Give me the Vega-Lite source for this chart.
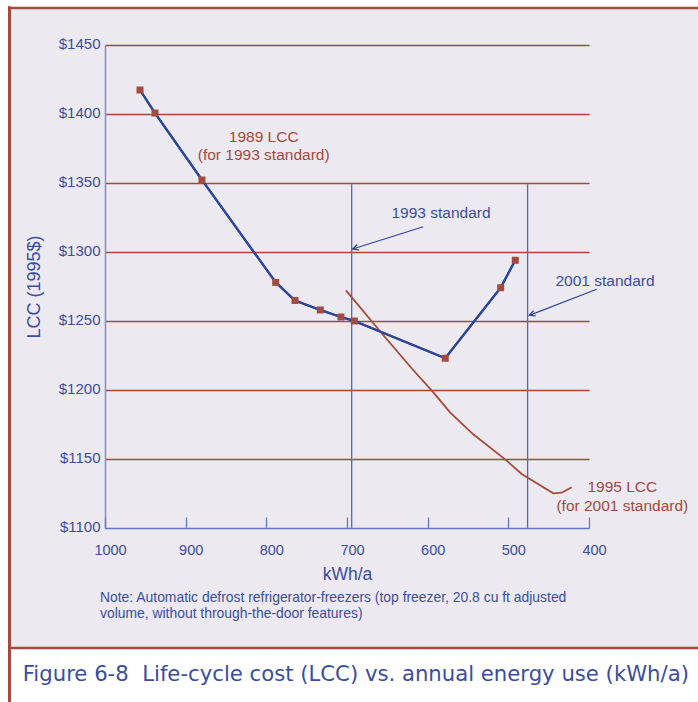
{
  "$schema": "https://vega.github.io/schema/vega-lite/v6.json",
  "width": 484,
  "height": 483,
  "autosize": {"type": "none"},
  "padding": {"left": 105, "top": 45, "right": 109, "bottom": 174},
  "background": "#ECE9F1",
  "view": {"stroke": null},
  "datasets": {
    "lcc1989": [
      {"kwh": 956.6, "lcc": 1417.4},
      {"kwh": 938.0, "lcc": 1400.7},
      {"kwh": 879.8, "lcc": 1352.2},
      {"kwh": 788.4, "lcc": 1278.0},
      {"kwh": 764.5, "lcc": 1264.9},
      {"kwh": 733.1, "lcc": 1258.0},
      {"kwh": 707.5, "lcc": 1252.9},
      {"kwh": 690.9, "lcc": 1250.0},
      {"kwh": 578.2, "lcc": 1223.0},
      {"kwh": 509.5, "lcc": 1274.1},
      {"kwh": 491.4, "lcc": 1294.0}
    ],
    "lcc1995": [
      {"kwh": 701.3, "lcc": 1272.2},
      {"kwh": 657.0, "lcc": 1241.1},
      {"kwh": 619.1, "lcc": 1215.2},
      {"kwh": 593.8, "lcc": 1198.8},
      {"kwh": 572.3, "lcc": 1183.8},
      {"kwh": 543.5, "lcc": 1167.9},
      {"kwh": 502.1, "lcc": 1148.8},
      {"kwh": 483.5, "lcc": 1139.1},
      {"kwh": 444.3, "lcc": 1125.1},
      {"kwh": 433.9, "lcc": 1125.6},
      {"kwh": 421.5, "lcc": 1129.5}
    ],
    "standards": [
      {"standard": "1993 standard", "kwh": 694.2},
      {"standard": "2001 standard", "kwh": 476.1}
    ]
  },
  "layer": [
    {
      "data": {"name": "lcc1989"},
      "mark": {"type": "line", "color": "#2C4699", "strokeWidth": 2.2},
      "encoding": {
        "x": {
          "field": "kwh", "type": "quantitative",
          "scale": {"domain": [1000, 400], "nice": false, "zero": false},
          "axis": {
            "values": [1000, 900, 800, 700, 600, 500, 400],
            "format": "d",
            "title": "kWh/a",
            "grid": false,
            "domainColor": "#6677BB", "domainWidth": 1.5,
            "tickColor": "#6677BB", "tickWidth": 1.3, "tickSize": -11,
            "labelColor": "#3A4E9E", "labelFont": "Liberation Sans", "labelFontSize": 14.5,
            "labelPadding": 26, "labelOffset": 5, "labelFlush": false,
            "titleFont": "Liberation Sans", "titleFontSize": 17.5, "titleFontWeight": "normal",
            "titleColor": "#3A4E9E", "titlePadding": 9, "zindex": 1
          }
        },
        "y": {
          "field": "lcc", "type": "quantitative",
          "scale": {"domain": [1100, 1450], "nice": false, "zero": false},
          "axis": {
            "values": [1100, 1150, 1200, 1250, 1300, 1350, 1400, 1450],
            "labelExpr": "'$' + datum.value",
            "title": "LCC (1995$)",
            "ticks": false,
            "domainColor": "#7F8FCB", "domainWidth": 1.5,
            "grid": true,
            "gridColor": {"condition": {"test": "datum.value === 1100", "value": "rgba(0,0,0,0)"}, "value": "#A24A3D"},
            "gridWidth": 1.3,
            "labelColor": "#3A4E9E", "labelFont": "Liberation Sans", "labelFontSize": 15,
            "labelPadding": 5, "labelOffset": -1.5,
            "titleFont": "Liberation Sans", "titleFontSize": 18, "titleFontWeight": "normal",
            "titleColor": "#3A4E9E", "titlePadding": 15
          }
        }
      }
    },
    {
      "data": {"values": [{}]},
      "mark": {"type": "rect", "color": "white"},
      "encoding": {
        "x": {"datum": 1140, "type": "quantitative"},
        "x2": {"datum": 250},
        "y": {"datum": 1495, "type": "quantitative"},
        "y2": {"datum": 1477.3}
      }
    },
    {
      "data": {"values": [{}]},
      "mark": {"type": "rect", "color": "white"},
      "encoding": {
        "x": {"datum": 1140, "type": "quantitative"},
        "x2": {"datum": 1120.3},
        "y": {"datum": 1495, "type": "quantitative"},
        "y2": {"datum": 950}
      }
    },
    {
      "data": {"values": [{}]},
      "mark": {"type": "rect", "color": "white"},
      "encoding": {
        "x": {"datum": 1120, "type": "quantitative"},
        "x2": {"datum": 250},
        "y": {"datum": 1012.2, "type": "quantitative"},
        "y2": {"datum": 950}
      }
    },
    {
      "data": {"values": [{}]},
      "mark": {"type": "rule", "color": "#A24A3D", "strokeWidth": 3},
      "encoding": {
        "x": {"datum": 1118.4, "type": "quantitative"},
        "y": {"datum": 1478, "type": "quantitative"},
        "y2": {"datum": 950}
      }
    },
    {
      "data": {"values": [{}]},
      "mark": {"type": "rule", "color": "#A24A3D", "strokeWidth": 2.6},
      "encoding": {
        "x": {"datum": 1120.3, "type": "quantitative"},
        "x2": {"datum": 250},
        "y": {"datum": 1476.8, "type": "quantitative"}
      }
    },
    {
      "data": {"values": [{}]},
      "mark": {"type": "rule", "color": "#A24A3D", "strokeWidth": 2.6},
      "encoding": {
        "x": {"datum": 1118.4, "type": "quantitative"},
        "x2": {"datum": 250},
        "y": {"datum": 1013, "type": "quantitative"}
      }
    },
    {
      "data": {"name": "standards"},
      "mark": {"type": "rule", "color": "#5468AE", "strokeWidth": 1.3},
      "encoding": {
        "x": {"field": "kwh", "type": "quantitative"},
        "y": {"datum": 1350, "type": "quantitative"},
        "y2": {"datum": 1100}
      }
    },
    {
      "data": {"name": "lcc1995"},
      "mark": {"type": "line", "color": "#A64A3A", "strokeWidth": 1.8},
      "encoding": {
        "x": {"field": "kwh", "type": "quantitative"},
        "y": {"field": "lcc", "type": "quantitative"}
      }
    },
    {
      "data": {"name": "lcc1989"},
      "mark": {"type": "line", "color": "#2C4699", "strokeWidth": 2.2},
      "encoding": {
        "x": {"field": "kwh", "type": "quantitative"},
        "y": {"field": "lcc", "type": "quantitative"}
      }
    },
    {
      "data": {"name": "lcc1989"},
      "mark": {"type": "point", "shape": "square", "filled": true, "size": 49, "color": "#A34B3E", "opacity": 1},
      "encoding": {
        "x": {"field": "kwh", "type": "quantitative"},
        "y": {"field": "lcc", "type": "quantitative"}
      }
    },
    {
      "data": {"values": [{}]},
      "mark": {"type": "rule", "color": "#2C4699", "strokeWidth": 1.2},
      "encoding": {
        "x": {"datum": 605.4, "type": "quantitative"},
        "y": {"datum": 1318.3, "type": "quantitative"},
        "x2": {"datum": 693.0},
        "y2": {"datum": 1302.2}
      }
    },
    {
      "data": {"values": [{}]},
      "mark": {"type": "point", "shape": "M-1,-0.5L0,0L-1,0.5", "filled": false, "size": 130, "color": "#2C4699", "strokeWidth": 1.3, "angle": 162.5, "opacity": 1},
      "encoding": {
        "x": {"datum": 693.0, "type": "quantitative"},
        "y": {"datum": 1302.2, "type": "quantitative"}
      }
    },
    {
      "data": {"values": [{}]},
      "mark": {"type": "rule", "color": "#2C4699", "strokeWidth": 1.2},
      "encoding": {
        "x": {"datum": 390.5, "type": "quantitative"},
        "y": {"datum": 1273.0, "type": "quantitative"},
        "x2": {"datum": 474.0},
        "y2": {"datum": 1254.1}
      }
    },
    {
      "data": {"values": [{}]},
      "mark": {"type": "point", "shape": "M-1,-0.5L0,0L-1,0.5", "filled": false, "size": 130, "color": "#2C4699", "strokeWidth": 1.3, "angle": 158.9, "opacity": 1},
      "encoding": {
        "x": {"datum": 474.0, "type": "quantitative"},
        "y": {"datum": 1254.1, "type": "quantitative"}
      }
    },
    {
      "data": {"values": [{}]},
      "mark": {"type": "text", "text": "1993 standard", "font": "Liberation Sans", "fontSize": 15.5, "color": "#3A4E9E", "align": "center", "baseline": "middle"},
      "encoding": {
        "x": {"datum": 583.5, "type": "quantitative"},
        "y": {"datum": 1328.5, "type": "quantitative"}
      }
    },
    {
      "data": {"values": [{}]},
      "mark": {"type": "text", "text": "2001 standard", "font": "Liberation Sans", "fontSize": 15.5, "color": "#3A4E9E", "align": "center", "baseline": "middle"},
      "encoding": {
        "x": {"datum": 380.2, "type": "quantitative"},
        "y": {"datum": 1279.2, "type": "quantitative"}
      }
    },
    {
      "data": {"values": [{}]},
      "mark": {"type": "text", "text": ["1989 LCC", "(for 1993 standard)"], "lineHeight": 18.3, "font": "Liberation Sans", "fontSize": 15.5, "color": "#A24A3D", "align": "center", "baseline": "middle"},
      "encoding": {
        "x": {"datum": 803.3, "type": "quantitative"},
        "y": {"datum": 1383.55, "type": "quantitative"}
      }
    },
    {
      "data": {"values": [{}]},
      "mark": {"type": "text", "text": ["1995 LCC", "(for 2001 standard)"], "lineHeight": 18.7, "font": "Liberation Sans", "fontSize": 15.5, "color": "#A24A3D", "align": "center", "baseline": "middle"},
      "encoding": {
        "x": {"datum": 358.7, "type": "quantitative"},
        "y": {"datum": 1129.5, "type": "quantitative"}
      }
    },
    {
      "data": {"values": [{}]},
      "mark": {"type": "text", "text": ["Note: Automatic defrost refrigerator-freezers (top freezer, 20.8 cu ft adjusted", "volume, without through-the-door features)"], "lineHeight": 15.7, "font": "Liberation Sans", "fontSize": 13.9, "color": "#3A4E9E", "align": "left", "baseline": "middle"},
      "encoding": {
        "x": {"datum": 1006.2, "type": "quantitative"},
        "y": {"datum": 1049.1, "type": "quantitative"}
      }
    },
    {
      "data": {"values": [{}]},
      "mark": {"type": "text", "text": "Figure 6-8\u00a0\u00a0Life-cycle cost (LCC) vs. annual energy use (kWh/a)", "font": "DejaVu Sans", "fontSize": 21.2, "color": "#3A4E9E", "align": "left", "baseline": "middle"},
      "encoding": {
        "x": {"datum": 1102, "type": "quantitative"},
        "y": {"datum": 993.5, "type": "quantitative"}
      }
    }
  ]
}
